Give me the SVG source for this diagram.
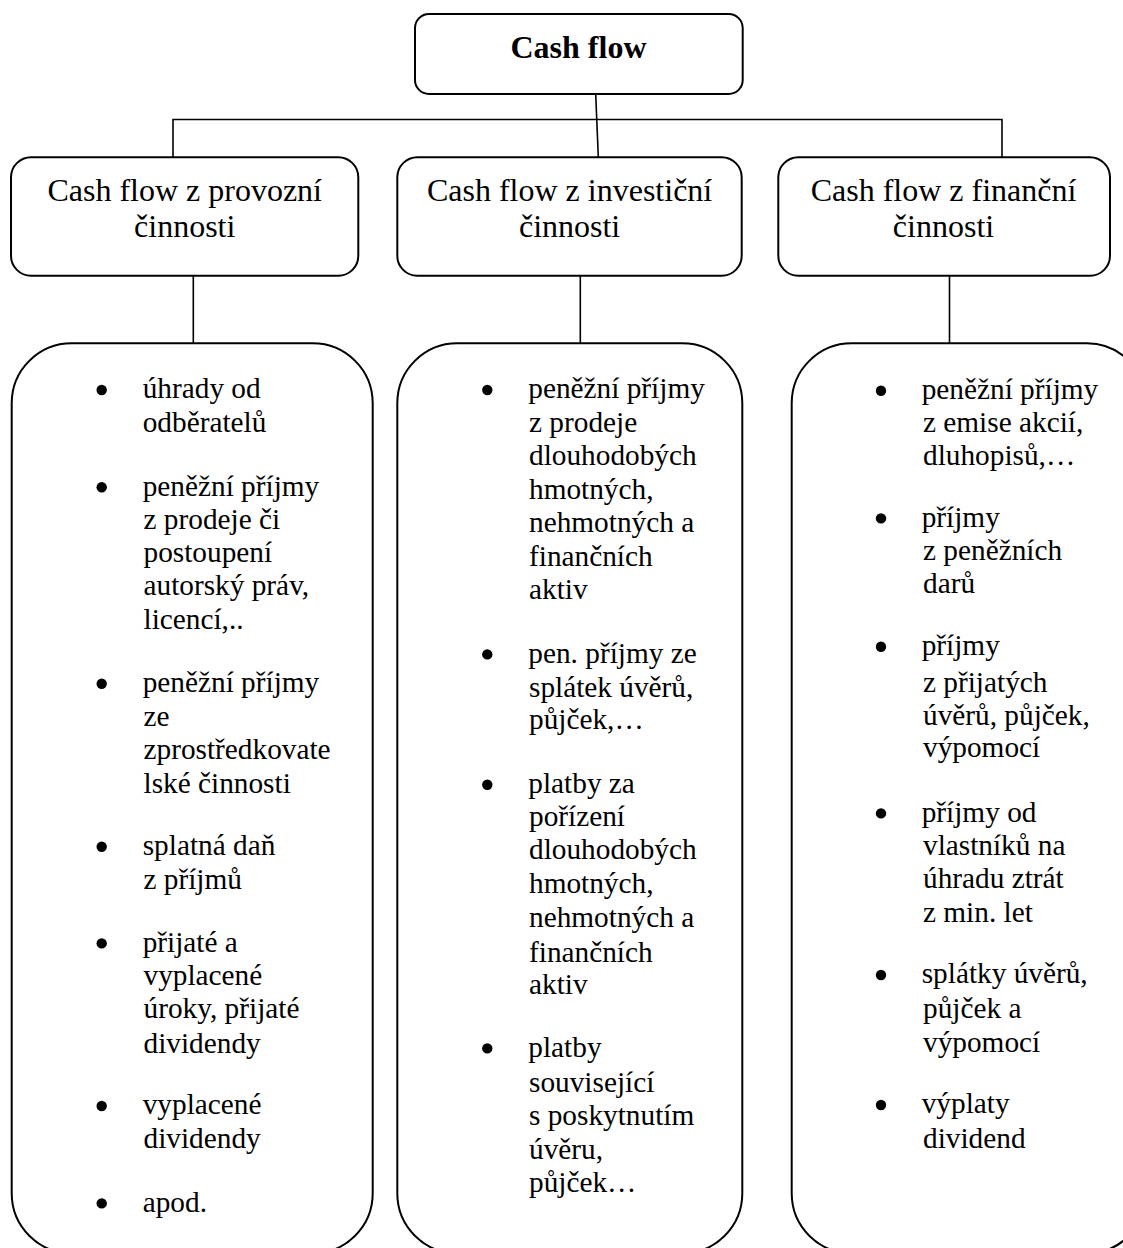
<svg xmlns="http://www.w3.org/2000/svg" width="1123" height="1248" viewBox="0 0 1123 1248">
<style>
.box{fill:#fff;stroke:#000;stroke-width:2}
.con{fill:none;stroke:#000;stroke-width:1.6}
.txt{font-family:"Liberation Serif","LiberationSerif","Liberation Serif Regular","Times New Roman",Times,Tinos,"Nimbus Roman","Nimbus Roman No9 L","Noto Serif","DejaVu Serif","FreeSerif",serif}
.title{font-size:32px;font-weight:bold;text-anchor:middle;fill:#000}
.head{font-size:32px;text-anchor:middle;fill:#000}
.item{font-size:29.3px;fill:#000}
.bul{fill:#000}
</style>
<rect width="1123" height="1248" fill="#fff"/>
<g id="connectors">
<path class="con" d="M595.7,94 L598.3,157"/>
<path class="con" d="M173,157 V119.5 H1002 V157"/>
<path class="con" d="M193.3,275.7 V343.3"/>
<path class="con" d="M580.3,275.7 V343.3"/>
<path class="con" d="M949.5,275.7 V343.3"/>
</g>
<g class="txt">
<g id="cashflow">
<rect class="box" x="415" y="14" width="327.7" height="80" rx="14"/>
<text class="title" x="578.5" y="58.3">Cash flow</text>
</g>
<g id="provozni">
<rect class="box" x="11" y="157.3" width="347.3" height="118.4" rx="20"/>
<text class="head" x="184.7" y="201">Cash flow z provozní</text>
<text class="head" x="184.7" y="237.3">činnosti</text>
</g>
<g id="investicni">
<rect class="box" x="397.3" y="157.3" width="344.4" height="118.4" rx="20"/>
<text class="head" x="569.6" y="201">Cash flow z investiční</text>
<text class="head" x="569.6" y="237.3">činnosti</text>
</g>
<g id="financni">
<rect class="box" x="778.3" y="157.3" width="331.7" height="118.4" rx="20"/>
<text class="head" x="943.5" y="201">Cash flow z finanční</text>
<text class="head" x="943.5" y="237.3">činnosti</text>
</g>
<g id="provozni-list">
<rect class="box" x="11.7" y="343.3" width="361" height="910" rx="60"/>
<circle class="bul" cx="101.7" cy="390" r="5.2"/>
<circle class="bul" cx="101.7" cy="487.2" r="5.2"/>
<circle class="bul" cx="101.7" cy="683.7" r="5.2"/>
<circle class="bul" cx="101.7" cy="846.7" r="5.2"/>
<circle class="bul" cx="101.7" cy="943.4" r="5.2"/>
<circle class="bul" cx="101.7" cy="1106" r="5.2"/>
<circle class="bul" cx="101.7" cy="1203.4" r="5.2"/>
<text class="item" x="142.7" y="398.3">úhrady od</text>
<text class="item" x="142.7" y="431.5">odběratelů</text>
<text class="item" x="142.7" y="495.5">peněžní příjmy</text>
<text class="item" x="143.5" y="528.5">z prodeje či</text>
<text class="item" x="143.5" y="562">postoupení</text>
<text class="item" x="143.5" y="595.3">autorský práv,</text>
<text class="item" x="143.5" y="629.2">licencí,..</text>
<text class="item" x="142.7" y="692">peněžní příjmy</text>
<text class="item" x="143.5" y="725.8">ze</text>
<text class="item" x="143.5" y="759">zprostředkovate</text>
<text class="item" x="143.5" y="793">lské činnosti</text>
<text class="item" x="142.7" y="855">splatná daň</text>
<text class="item" x="143.5" y="889.3">z příjmů</text>
<text class="item" x="142.7" y="951.7">přijaté a</text>
<text class="item" x="143.5" y="984.5">vyplacené</text>
<text class="item" x="143.5" y="1018.3">úroky, přijaté</text>
<text class="item" x="143.5" y="1052.5">dividendy</text>
<text class="item" x="142.7" y="1114.3">vyplacené</text>
<text class="item" x="143.5" y="1148.3">dividendy</text>
<text class="item" x="142.7" y="1211.7">apod.</text>
</g>
<g id="investicni-list">
<rect class="box" x="397.3" y="343.3" width="345" height="910" rx="60"/>
<circle class="bul" cx="487.3" cy="390" r="5.2"/>
<circle class="bul" cx="487.3" cy="654.4" r="5.2"/>
<circle class="bul" cx="487.3" cy="784.7" r="5.2"/>
<circle class="bul" cx="487.3" cy="1048.4" r="5.2"/>
<text class="item" x="528.3" y="398.3">peněžní příjmy</text>
<text class="item" x="529" y="431.7">z prodeje</text>
<text class="item" x="529" y="465">dlouhodobých</text>
<text class="item" x="529" y="498.5">hmotných,</text>
<text class="item" x="529" y="532.3">nehmotných a</text>
<text class="item" x="529" y="565.8">finančních</text>
<text class="item" x="529" y="598.5">aktiv</text>
<text class="item" x="528.3" y="662.7">pen. příjmy ze</text>
<text class="item" x="529" y="696.5">splátek úvěrů,</text>
<text class="item" x="529" y="729.3">půjček,…</text>
<text class="item" x="528.3" y="793">platby za</text>
<text class="item" x="529" y="825.5">pořízení</text>
<text class="item" x="529" y="859.3">dlouhodobých</text>
<text class="item" x="529" y="893.3">hmotných,</text>
<text class="item" x="529" y="927.3">nehmotných a</text>
<text class="item" x="529" y="961.5">finančních</text>
<text class="item" x="529" y="993.5">aktiv</text>
<text class="item" x="528.3" y="1056.7">platby</text>
<text class="item" x="529" y="1091.5">související</text>
<text class="item" x="529" y="1125">s poskytnutím</text>
<text class="item" x="529" y="1158.5">úvěru,</text>
<text class="item" x="529" y="1192.3">půjček…</text>
</g>
<g id="financni-list">
<rect class="box" x="791.7" y="343.3" width="355" height="910" rx="60"/>
<circle class="bul" cx="881" cy="390.7" r="5.2"/>
<circle class="bul" cx="881" cy="518.4" r="5.2"/>
<circle class="bul" cx="881" cy="646.7" r="5.2"/>
<circle class="bul" cx="881" cy="813.4" r="5.2"/>
<circle class="bul" cx="881" cy="975" r="5.2"/>
<circle class="bul" cx="881" cy="1105" r="5.2"/>
<text class="item" x="921.7" y="399">peněžní příjmy</text>
<text class="item" x="923" y="431.7">z emise akcií,</text>
<text class="item" x="923" y="465">dluhopisů,…</text>
<text class="item" x="921.7" y="526.7">příjmy</text>
<text class="item" x="923" y="560">z peněžních</text>
<text class="item" x="923" y="593.3">darů</text>
<text class="item" x="921.7" y="655">příjmy</text>
<text class="item" x="923" y="691.5">z přijatých</text>
<text class="item" x="923" y="725">úvěrů, půjček,</text>
<text class="item" x="923" y="757">výpomocí</text>
<text class="item" x="921.7" y="821.7">příjmy od</text>
<text class="item" x="923" y="855">vlastníků na</text>
<text class="item" x="923" y="888.3">úhradu ztrát</text>
<text class="item" x="923" y="921.7">z min. let</text>
<text class="item" x="921.7" y="983.3">splátky úvěrů,</text>
<text class="item" x="923" y="1018.3">půjček a</text>
<text class="item" x="923" y="1051.7">výpomocí</text>
<text class="item" x="921.7" y="1113.3">výplaty</text>
<text class="item" x="923" y="1147.7">dividend</text>
</g>
</g>
</svg>
